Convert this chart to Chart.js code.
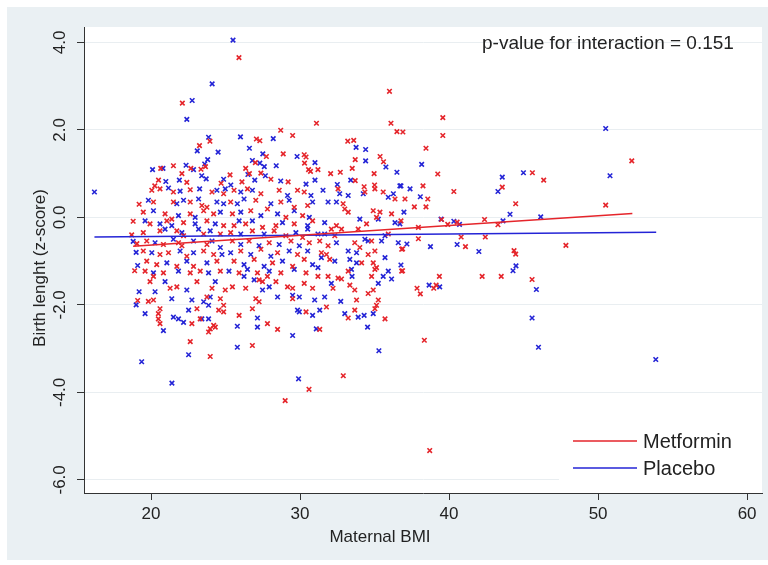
<!DOCTYPE html>
<html>
<head>
<meta charset="utf-8">
<script src="https://cdn.jsdelivr.net/npm/chart.js@4.4.1/dist/chart.umd.min.js"></script>
<style>
  html, body { margin: 0; padding: 0; background: #ffffff; }
  #wrap { width: 768px; height: 565px; }
</style>
</head>
<body>
<div id="wrap"><canvas id="bmiChart" width="768" height="565"></canvas></div>
<script>
// axis ticks
const xTicks = [20, 30, 40, 50, 60]
const yTicks = [4, 2, 0, -2, -4, -6]

// [maternal BMI, birth length z-score]
const metformin = [
  [22.1,2.61],[23.95,1.74],[23.25,1.64],[23.65,1.16],[20.65,1.12],[21.5,1.18],[22.67,1.12],[23.35,1.1],[22.07,1.0],[20.5,0.85],[20.25,0.72],[22.4,0.8],[24.7,0.78],
  [28.7,1.99],[29.5,1.87],[27.07,1.79],[27.3,1.75],[28.87,1.45],[27.74,1.39],[30.28,1.43],[30.4,1.38],[26.35,1.12],[30.3,1.24],[30.57,1.09],[30.7,1.05],[26.6,1.0],[27.37,1.01],[28.04,0.87],[29.2,0.81],[26.1,0.81],[25.3,0.97],[27.0,1.25],
  [31.1,2.15],[36.1,2.15],[36.5,1.96],[36.9,1.95],[33.2,1.74],[33.6,1.76],[33.7,1.32],[35.37,1.39],[35.6,1.27],[33.5,1.12],[32.05,1.0],[32.7,1.03],[34.97,1.0],[31.2,1.09],[33.7,0.84],[35.0,0.74],[34.3,0.7],
  [25.9,3.65],[36.0,2.88],
  [20.05,0.62],[20.6,0.65],[21.5,0.58],[22.63,0.63],[24.09,0.58],[24.87,0.54],[20.16,0.35],[21.5,0.35],[22.63,0.35],[23.41,0.27],[23.75,0.23],[19.48,0.12],[20.94,0.08],[21.39,-0.04],[22.63,0.08],[23.53,0.15],[24.2,0.08],[19.93,-0.15],[21.06,-0.08],[22.18,-0.12],[23.75,-0.08],[24.87,-0.19],[19.48,-0.35],[20.6,-0.31],[21.73,-0.31],[22.18,-0.42],[23.53,-0.38],[24.65,-0.38],[19.71,-0.54],[20.83,-0.62],[21.84,-0.58],[22.07,-0.65],[23.75,-0.62],[19.48,-0.77],[20.6,-0.85],[21.17,-0.81],[22.4,-0.89],[23.53,-0.77],[24.2,-0.85],[19.71,-1.0],[20.38,-1.08],[21.73,-1.12],[22.85,-1.12],[24.42,-1.0],[19.6,-1.23],[20.83,-1.27],[22.63,-1.27],[23.3,-1.23],[24.65,-1.23],
  [25.57,0.62],[26.47,0.65],[27.37,0.54],[28.6,0.62],[29.83,0.62],[30.28,0.58],[25.34,0.35],[27.03,0.39],[28.71,0.35],[29.61,0.23],[30.51,0.27],[25.46,0.08],[26.69,0.15],[27.81,0.19],[29.05,0.0],[30.17,0.04],[25.57,-0.19],[26.35,-0.15],[27.48,-0.23],[28.38,-0.19],[29.61,-0.15],[30.84,-0.08],[25.34,-0.35],[26.8,-0.31],[28.26,-0.31],[29.05,-0.42],[30.17,-0.46],[25.46,-0.54],[26.58,-0.54],[27.93,-0.58],[29.39,-0.54],[30.62,-0.58],[26.02,-0.77],[27.37,-0.73],[28.49,-0.81],[29.83,-0.85],[25.57,-1.0],[26.92,-0.96],[28.15,-1.04],[29.5,-1.12],[30.28,-0.96],[25.91,-1.27],[27.14,-1.27],[28.71,-1.27],[30.4,-1.27],
  [32.55,0.65],[34.35,0.58],[35.02,0.65],[35.58,0.58],[36.37,0.42],[32.89,0.31],[33.23,0.12],[33.0,0.19],[34.91,0.15],[35.36,0.12],[36.14,0.08],[32.44,-0.19],[34.46,-0.15],[35.13,0.0],[32.1,-0.27],[32.78,-0.27],[33.9,-0.27],[32.33,-0.42],[35.92,-0.38],[31.32,-0.54],[31.88,-0.65],[33.67,-0.58],[34.8,-0.54],[31.43,-0.81],[31.77,-0.85],[34.01,-0.69],[34.57,-0.85],[35.02,-0.77],[36.82,-0.73],[31.99,-0.96],[34.13,-1.04],[34.91,-1.04],[35.13,-1.15],[33.23,-1.23],[35.02,-1.19],[36.82,-1.23],
  [20.16,-1.35],[19.93,-1.47],[21.28,-1.62],[21.73,-1.59],[23.08,-1.47],[24.09,-1.62],[24.98,-1.66],[23.75,-1.82],[24.65,-1.86],[19.82,-1.92],[20.16,-1.89],[24.87,-2.01],[20.6,-2.09],[20.49,-2.2],[23.08,-2.09],[24.54,-2.12],[24.87,-2.16],[20.49,-2.32],[22.74,-2.43],[23.3,-2.32],[24.2,-2.47],[20.6,-2.43],[23.97,-2.55],[24.31,-2.51],[23.86,-2.62],[22.63,-2.84],[23.97,-3.18],
  [25.46,-1.59],[26.35,-1.62],[27.25,-1.43],[27.48,-1.47],[27.81,-1.35],[28.38,-1.47],[29.16,-1.59],[29.5,-1.62],[29.5,-1.86],[30.28,-1.51],[30.84,-1.62],[27.03,-1.86],[27.25,-1.93],[26.8,-2.09],[25.91,-2.24],[27.81,-2.43],[28.49,-2.56],[30.4,-2.16],[26.8,-2.93],
  [31.2,-1.35],[31.88,-1.35],[32.55,-1.39],[32.21,-1.62],[32.78,-1.41],[34.8,-1.35],[33.34,-1.55],[33.67,-1.66],[34.57,-1.74],[34.91,-1.66],[35.25,-1.89],[35.13,-2.01],[35.02,-2.09],[33.79,-1.89],[31.77,-2.05],[33.67,-2.12],[33.23,-2.3],[35.7,-2.32],[31.32,-2.56],
  [39.58,2.28],[39.58,1.87],[38.45,1.58],[52.26,1.29],[39.24,0.99],[45.59,1.02],[46.35,0.85],[38.25,0.72],[40.32,0.59],[43.57,0.69],[37.04,0.42],[38.57,0.42],[37.67,0.24],[38.45,0.24],[44.47,0.31],[50.51,0.28],[36.77,-0.08],[39.5,-0.05],[40.54,-0.11],[39.91,-0.16],[42.38,-0.05],[43.28,-0.17],[37.94,-0.23],[37.94,-0.49],[40.81,-0.45],[42.43,-0.45],[36.88,-0.72],[41.1,-0.67],[47.84,-0.64],[44.36,-0.76],[44.47,-0.84],[36.88,-1.22],[39.35,-1.35],[42.22,-1.35],[43.5,-1.35],[45.57,-1.42],[37.85,-1.62],[38.07,-1.75],[38.97,-1.62],[39.13,-1.55],[38.34,-2.81],
  [29.0,-4.19],[30.6,-3.93],[32.9,-3.62],[38.7,-5.33],
  [18.8,-0.09],[19.05,-0.6],[18.9,-1.22],[18.7,-0.4],[19.2,0.3],[19.1,-1.9]
]

const placebo = [
  [22.76,2.67],[22.4,2.24],[23.86,1.83],[23.1,1.52],[24.5,1.49],[23.8,1.32],[23.6,1.22],[20.1,1.09],[20.8,1.12],[22.35,1.19],[22.85,1.09],[21.9,0.85],[20.99,0.82],[23.4,0.95],[24.87,0.87],[23.7,0.88],
  [26.0,1.84],[28.2,1.8],[26.6,1.58],[27.5,1.45],[29.8,1.39],[26.8,1.3],[27.3,1.24],[27.6,1.16],[28.4,1.18],[26.5,0.98],[27.67,0.95],[28.7,0.83],[26.96,0.85],[25.35,0.74],[30.4,0.76],
  [33.76,1.6],[34.4,1.55],[34.4,1.29],[35.76,1.15],[36.5,1.03],[31.0,1.25],[33.4,0.85],[32.5,0.75],[36.7,0.72],[31.0,0.85],
  [25.5,4.05],[24.1,3.05],
  [21.17,0.67],[21.95,0.6],[23.26,0.65],[24.42,0.62],[24.98,0.65],[19.82,0.39],[21.73,0.31],[22.18,0.39],[23.19,0.42],[24.42,0.35],[24.87,0.31],[20.16,0.15],[21.84,0.04],[22.96,0.0],[24.65,0.12],[19.6,-0.08],[20.6,-0.15],[21.39,-0.19],[22.96,-0.15],[24.31,-0.15],[20.94,-0.27],[22.07,-0.35],[23.19,-0.27],[23.97,-0.31],[20.27,-0.58],[21.5,-0.5],[22.85,-0.54],[24.09,-0.54],[24.65,-0.69],[20.05,-0.81],[21.95,-0.77],[22.85,-0.81],[24.76,-0.85],[21.06,-1.04],[22.4,-1.0],[23.75,-1.04],[20.16,-1.27],[21.84,-1.23],[23.86,-1.27],
  [26.02,0.58],[26.8,0.62],[29.16,0.5],[30.73,0.5],[25.79,0.31],[26.24,0.42],[28.04,0.31],[29.27,0.39],[30.84,0.35],[26.02,0.12],[27.37,0.04],[28.49,0.08],[29.61,0.15],[30.62,0.0],[25.91,-0.08],[26.8,-0.08],[28.82,-0.12],[30.51,-0.19],[26.02,-0.38],[27.59,-0.38],[29.72,-0.35],[30.51,-0.27],[26.02,-0.62],[27.25,-0.65],[28.6,-0.62],[29.95,-0.65],[25.34,-0.81],[26.69,-0.85],[28.04,-0.89],[29.27,-0.77],[30.51,-0.77],[26.24,-1.08],[27.59,-1.12],[28.82,-1.0],[30.84,-1.08],[25.23,-1.23],[26.47,-1.19],[27.93,-1.23],[29.61,-1.19],
  [31.54,0.62],[32.66,0.54],[33.23,0.5],[34.24,0.54],[35.92,0.46],[36.26,0.54],[31.88,0.35],[32.44,0.35],[35.25,-0.04],[36.7,-0.15],[31.65,-0.12],[34.01,-0.04],[36.37,-0.12],[31.2,-0.38],[31.65,-0.38],[34.57,-0.54],[34.35,-0.5],[35.7,-0.42],[32.44,-0.58],[35.47,-0.54],[36.59,-0.58],[31.43,-0.92],[33.23,-0.77],[33.79,-0.81],[32.33,-1.0],[33.34,-0.96],[35.7,-0.92],[31.2,-1.15],[33.45,-1.19],[33.79,-1.04],[35.92,-1.23],
  [20.94,-1.47],[22.4,-1.66],[24.31,-1.47],[20.27,-1.7],[21.39,-1.86],[23.97,-1.82],[23.53,-1.93],[23.86,-2.01],[22.74,-1.89],[19.6,-2.2],[22.52,-2.12],[21.5,-2.28],[21.84,-2.32],[22.18,-2.4],[23.41,-2.32],[23.86,-2.32],[20.83,-2.59],[22.52,-3.14],[19.37,-3.3],
  [26.24,-1.35],[26.92,-1.43],[27.48,-1.66],[27.93,-1.59],[28.49,-1.82],[29.5,-1.78],[29.95,-1.82],[27.14,-2.3],[27.14,-2.51],[25.79,-2.49],[29.5,-2.7],[29.83,-2.12],[29.95,-2.16],[30.84,-2.24],[25.79,-2.97],
  [32.1,-1.51],[33.49,-1.35],[35.58,-1.35],[36.14,-1.41],[35.25,-1.51],[30.98,-1.89],[31.65,-1.82],[32.73,-1.92],[31.32,-2.12],[33.0,-2.2],[33.9,-2.28],[34.3,-2.24],[34.91,-2.2],[34.53,-2.51],[31.09,-2.55],[35.29,-3.05],
  [50.51,2.03],[38.16,1.21],[50.8,0.95],[43.57,0.92],[44.99,1.02],[36.77,0.72],[37.38,0.65],[43.28,0.59],[38.07,0.47],[36.97,0.12],[44.09,0.07],[46.15,0.01],[39.46,-0.04],[40.32,-0.09],[40.7,-0.16],[43.62,-0.08],[37.17,-0.61],[38.75,-0.67],[40.54,-0.62],[42.0,-0.78],[44.49,-1.11],[44.29,-1.22],[36.77,-1.09],[38.66,-1.55],[39.37,-1.59],[45.86,-1.65],[45.57,-2.3],[46.0,-2.97],[53.87,-3.25],
  [21.4,-3.79],[29.9,-3.69],
  [16.2,0.58],[18.8,-0.55],[19.1,-1.1],[19.2,-1.7],[19.0,-0.8],[19.0,-2.0]
]

// fitted lines (end points)
const metforminFit = [[18.8, -0.66], [52.3, 0.09]]
const placeboFit = [[16.2, -0.45], [53.9, -0.34]]

const RED = '#e5252b'
const BLUE = '#2424d6'
const FONT = '"Liberation Sans", Arial, sans-serif'

const toXY = arr => arr.map(p => ({ x: p[0], y: p[1] }))

const frame = {
    id: 'frame',
    beforeDraw(chart) {
        const { ctx, chartArea: a } = chart
        ctx.save()
        ctx.fillStyle = '#ffffff'
        ctx.fillRect(0, 0, chart.width, chart.height)
        ctx.fillStyle = '#eaf0f3'
        ctx.fillRect(7, 7, chart.width - 7, chart.height - 12)
        ctx.fillStyle = '#ffffff'
        ctx.fillRect(a.left, a.top, a.right - a.left, a.bottom - a.top)
        ctx.restore()
    },
    afterDraw(chart) {
        const { ctx } = chart
        ctx.save()
        ctx.fillStyle = '#222'
        ctx.font = '17px ' + FONT
        ctx.textAlign = 'center'
        ctx.textBaseline = 'middle'
        ctx.fillText('Maternal BMI', 380, 537)
        ctx.save()
        ctx.translate(40, 268)
        ctx.rotate(-Math.PI / 2)
        ctx.fillText('Birth lenght (z-score)', 0, 0)
        ctx.restore()
        ctx.font = '19px ' + FONT
        ctx.textAlign = 'left'
        ctx.fillText('p-value for interaction = 0.151', 482, 44)
        ctx.restore()
    }
}

// legend box sitting inside the plot, bottom right
const insideLegend = {
    id: 'insideLegend',
    afterDatasetsDraw(chart) {
        const { ctx } = chart
        const lines = chart.data.datasets.filter(d => d.type === 'line')
        ctx.save()
        ctx.fillStyle = '#ffffff'
        ctx.fillRect(559, 426, 203, 60)
        ctx.font = '20px ' + FONT
        ctx.textBaseline = 'middle'
        lines.forEach((d, i) => {
            const y = 441 + i * 27
            ctx.strokeStyle = d.borderColor
            ctx.lineWidth = 1.5
            ctx.beginPath()
            ctx.moveTo(573, y)
            ctx.lineTo(637, y)
            ctx.stroke()
            ctx.fillStyle = '#222'
            ctx.fillText(d.label, 643, y + 1)
        })
        ctx.restore()
    }
}

new Chart(document.getElementById('bmiChart'), {
    type: 'scatter',
    data: {
        datasets: [
            { type: 'line', label: 'Metformin', data: toXY(metforminFit), borderColor: RED, borderWidth: 1.5, pointRadius: 0, order: 0 },
            { type: 'line', label: 'Placebo', data: toXY(placeboFit), borderColor: BLUE, borderWidth: 1.5, pointRadius: 0, order: 0 },
            { label: 'Metformin points', data: toXY(metformin), pointStyle: 'crossRot', pointRadius: 3.2, borderColor: RED, borderWidth: 1.6, order: 1 },
            { label: 'Placebo points', data: toXY(placebo), pointStyle: 'crossRot', pointRadius: 3.2, borderColor: BLUE, borderWidth: 1.6, order: 2 }
        ]
    },
    options: {
        responsive: false,
        animation: false,
        layout: { padding: { left: 0, right: 6, top: 27, bottom: 0 } },
        plugins: { legend: { display: false }, tooltip: { enabled: false } },
        scales: {
            x: {
                type: 'linear',
                min: 15.5,
                max: 61,
                afterBuildTicks: s => { s.ticks = xTicks.map(v => ({ value: v })) },
                afterFit: s => { s.height = 72 },
                grid: { drawOnChartArea: false, drawTicks: true, tickLength: 7, tickColor: '#333' },
                border: { color: '#333', width: 1 },
                ticks: { color: '#222', font: { family: FONT, size: 17 }, padding: 4, maxRotation: 0 }
            },
            y: {
                type: 'linear',
                min: -6.3,
                max: 4.35,
                afterBuildTicks: s => { s.ticks = yTicks.map(v => ({ value: v })) },
                afterFit: s => { s.width = 84 },
                grid: { color: '#e9eef1', lineWidth: 1, drawTicks: true, tickLength: 7, tickColor: '#333' },
                border: { color: '#333', width: 1 },
                ticks: {
                    color: '#222', font: { family: FONT, size: 17 },
                    minRotation: 90, maxRotation: 90, crossAlign: 'center', padding: 2,
                    callback: v => v.toFixed(1)
                }
            }
        }
    },
    plugins: [frame, insideLegend]
})
</script>
</body>
</html>
